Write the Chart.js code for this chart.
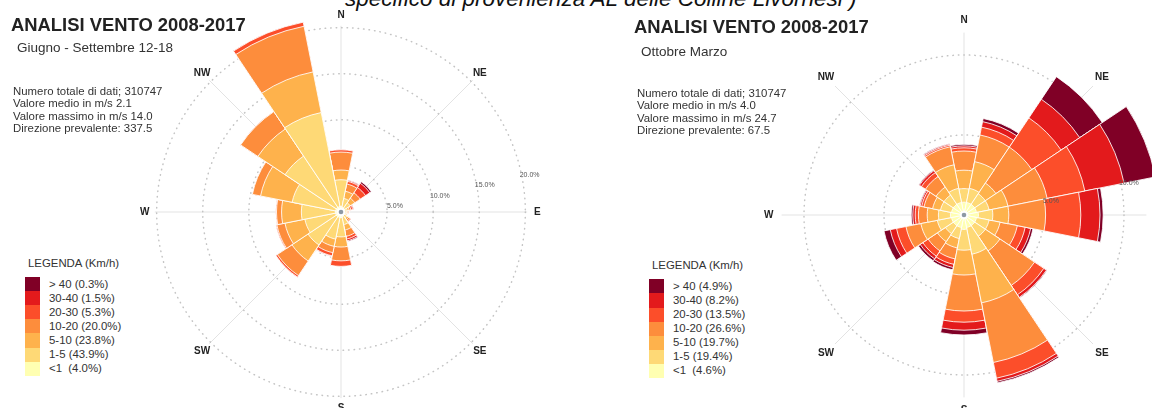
<!DOCTYPE html>
<html lang="it">
<head>
<meta charset="utf-8">
<title>Analisi vento 2008-2017</title>
<script src="https://cdn.jsdelivr.net/npm/chart.js@4.4.1/dist/chart.umd.min.js"></script>
<style>
  html, body { margin: 0; padding: 0; }
  body {
    width: 1152px; height: 408px; overflow: hidden; position: relative; background: #fff;
    font-family: "Liberation Sans", Arial, sans-serif; color: #333;
  }
  canvas { position: absolute; }
  .t { position: absolute; white-space: pre; }
  .caption { left: 345px; top: -13px; font-size: 22.5px; line-height: 24px; font-style: italic; color: #111; }
  .title { font-size: 18.4px; line-height: 20px; font-weight: bold; color: #222; }
  .sub { font-size: 13.5px; line-height: 16px; color: #333; }
  .stats { font-size: 11.4px; line-height: 12.45px; color: #333; }
  .legtitle { font-size: 11.4px; line-height: 14px; color: #333; }
  .sw { position: absolute; }
  .leglab { font-size: 11.4px; line-height: 14px; color: #333; }
</style>
</head>
<body>
<div class="t caption">specifico di provenienza AL delle Colline Livornesi )</div>

<canvas id="roseSummer" width="424" height="424" style="left:129px; top:0px;"></canvas>
<canvas id="roseWinter" width="416" height="416" style="left:756px; top:7px;"></canvas>

<div class="t title" style="left:11px; top:15px;">ANALISI VENTO 2008-2017</div>
<div class="t sub" style="left:17px; top:40px;">Giugno - Settembre 12-18</div>
<div class="t stats" style="left:13px; top:85px;">Numero totale di dati; 310747
Valore medio in m/s 2.1
Valore massimo in m/s 14.0
Direzione prevalente: 337.5</div>

<div class="t title" style="left:634px; top:17px;">ANALISI VENTO 2008-2017</div>
<div class="t sub" style="left:641px; top:44px;">Ottobre Marzo</div>
<div class="t stats" style="left:637px; top:87px;">Numero totale di dati; 310747
Valore medio in m/s 4.0
Valore massimo in m/s 24.7
Direzione prevalente: 67.5</div>

<div id="legSummer"></div>
<div id="legWinter"></div>

<script>
// settori di provenienza (16 direzioni, da N in senso orario)
const directions = ['N', 'NNE', 'NE', 'ENE', 'E', 'ESE', 'SE', 'SSE', 'S', 'SSW', 'SW', 'WSW', 'W', 'WNW', 'NW', 'NNW'];
// classi di velocità in km/h
const speedClasses = ['<1', '1-5', '5-10', '10-20', '20-30', '30-40', '> 40'];
const compassPoints = ['N', 'NE', 'E', 'SE', 'S', 'SW', 'W', 'NW'];

// Giugno - Settembre, frequenze (%) per classe e direzione
const summerLt1   = [0.6, 0.5, 0.5, 0.4, 0.4, 0.4, 0.4, 0.5, 0.6, 0.6, 0.6, 0.6, 0.6, 0.6, 0.6, 0.6];
const summer1to5  = [2.9, 1.0, 0.7, 0.3, 0.2, 0.15, 0.4, 0.9, 2.1, 2.4, 3.7, 3.4, 3.7, 4.8, 6.7, 10.4];
const summer5to10 = [1.05, 0.8, 0.6, 0.2, 0.1, 0.1, 0.2, 0.6, 1.1, 0.8, 2.1, 2.2, 2.15, 3.5, 3.55, 4.5];
const summer10to20 = [1.95, 0.8, 0.7, 0.2, 0.1, 0.05, 0.2, 0.7, 1.5, 0.7, 1.9, 0.9, 0.55, 0.9, 2.25, 5.05];
const summer20to30 = [0.25, 0.3, 0.7, 0.2, 0.05, 0, 0.1, 0.3, 0.6, 0.35, 0.2, 0.1, 0.07, 0, 0, 0.45];
const summer30to40 = [0, 0.1, 0.55, 0.1, 0, 0, 0, 0.2, 0, 0.05, 0, 0, 0, 0, 0, 0];
const summerGt40  = [0, 0.05, 0.2, 0, 0, 0, 0, 0.1, 0, 0, 0, 0, 0, 0, 0, 0];
const summerShares = [4.0, 43.9, 23.8, 20.0, 5.3, 1.5, 0.3];
const summerRings = [5, 10, 15, 20];

// Ottobre - Marzo
const winterLt1   = [0.8, 0.8, 0.8, 0.8, 0.9, 0.8, 0.8, 0.8, 0.9, 0.8, 0.8, 0.8, 0.85, 0.8, 0.8, 0.8];
const winter1to5  = [0.85, 0.9, 0.8, 0.8, 0.9, 0.8, 0.8, 1.7, 1.3, 0.7, 0.6, 0.9, 0.75, 0.7, 0.7, 0.9];
const winter5to10 = [1.15, 1.7, 0.8, 1.2, 1.0, 0.7, 1.1, 3.1, 1.55, 0.6, 0.6, 1.05, 0.7, 0.5, 0.6, 1.5];
const winter10to20 = [1.2, 1.7, 2.7, 2.5, 2.3, 1.1, 2.6, 3.8, 2.25, 0.7, 0.7, 0.95, 0.55, 0.55, 0.8, 1.15];
const winter20to30 = [0.2, 0.5, 2.2, 2.4, 2.2, 0.5, 0.7, 1.0, 0.7, 0.35, 0.4, 0.6, 0.2, 0.15, 0.3, 0.1];
const winter30to40 = [0.12, 0.35, 1.4, 2.5, 1.2, 0.35, 0.2, 0.2, 0.5, 0.2, 0.2, 0.4, 0.15, 0.1, 0.15, 0.07];
const winterGt40  = [0.1, 0.2, 1.7, 2.0, 0.2, 0.15, 0.05, 0.1, 0.3, 0.15, 0.15, 0.4, 0.1, 0.05, 0.05, 0.04];
const winterShares = [4.6, 19.4, 19.7, 26.6, 13.5, 8.2, 4.9];
const winterRings = [5, 10];

// palette YlOrRd, dalla classe più debole alla più forte
const classColors = ['#ffffb2', '#fed976', '#feb24c', '#fd8d3c', '#fc4e2a', '#e31a1c', '#800026'];

// griglia tratteggiata, raggi, etichette cardinali e percentuali
const roseFrame = {
  id: 'roseFrame',
  beforeDatasetsDraw(chart, args, o) {
    const s = chart.scales.r, ctx = chart.ctx;
    const cx = s.xCenter, cy = s.yCenter;
    ctx.save();
    ctx.strokeStyle = '#e3e3e3';
    ctx.lineWidth = 1;
    const len = s.getDistanceFromCenterForValue(o.spoke);
    for (let k = 0; k < 8; k++) {
      const a = k * Math.PI / 4;
      ctx.beginPath();
      ctx.moveTo(cx, cy);
      ctx.lineTo(cx + len * Math.sin(a), cy - len * Math.cos(a));
      ctx.stroke();
    }
    ctx.strokeStyle = '#c4c4c4';
    ctx.lineWidth = 1.5;
    ctx.lineCap = 'round';
    ctx.setLineDash([0.5, 5]);
    o.rings.forEach(v => {
      ctx.beginPath();
      ctx.arc(cx, cy, s.getDistanceFromCenterForValue(v), 0, Math.PI * 2);
      ctx.stroke();
    });
    ctx.restore();
  },
  afterDatasetsDraw(chart, args, o) {
    const s = chart.scales.r, ctx = chart.ctx;
    const cx = s.xCenter, cy = s.yCenter;
    ctx.save();
    // punto centrale
    ctx.fillStyle = '#ffffff';
    ctx.beginPath(); ctx.arc(cx, cy, 4, 0, Math.PI * 2); ctx.fill();
    ctx.fillStyle = '#8e99a4';
    ctx.beginPath(); ctx.arc(cx, cy, 2.3, 0, Math.PI * 2); ctx.fill();

    // percentuali sui cerchi, lungo una direzione poco sopra E
    ctx.font = '7px "Liberation Sans", Arial, sans-serif';
    ctx.fillStyle = '#555';
    ctx.textAlign = 'center';
    ctx.textBaseline = 'middle';
    const ta = 77 * Math.PI / 180;
    o.rings.forEach(v => {
      const r = s.getDistanceFromCenterForValue(v);
      ctx.fillText(v.toFixed(1) + '%', cx + r * Math.sin(ta) + 9, cy - r * Math.cos(ta) + 4.5);
    });

    // punti cardinali
    ctx.font = 'bold 10px "Liberation Sans", Arial, sans-serif';
    ctx.fillStyle = '#222';
    const lr = s.getDistanceFromCenterForValue(o.labelAt);
    compassPoints.forEach((p, k) => {
      const a = k * Math.PI / 4;
      ctx.fillText(p, cx + lr * Math.sin(a), cy - lr * Math.cos(a));
    });
    ctx.restore();
  }
};

function makeRose(canvasId, classSeries, frame) {
  // la rosa è disegnata a strati: ogni dataset è il cumulato fino a quella classe
  let running = directions.map(() => 0);
  const datasets = classSeries.map((vals, k) => {
    running = running.map((r, i) => Math.round((r + vals[i]) * 100) / 100);
    return {
      label: speedClasses[k],
      data: running.slice(),
      backgroundColor: classColors[k],
      borderColor: 'rgba(255,255,255,0.85)',
      borderWidth: 1
    };
  });
  return new Chart(document.getElementById(canvasId), {
    type: 'polarArea',
    data: { labels: directions, datasets },
    options: {
      responsive: false,
      animation: false,
      events: [],
      layout: { padding: 0 },
      startAngle: -11.25,
      scales: {
        r: {
          min: 0,
          max: frame.max,
          startAngle: -11.25,
          ticks: { display: false },
          grid: { display: false },
          angleLines: { display: false },
          pointLabels: { display: false }
        }
      },
      plugins: {
        legend: { display: false },
        tooltip: { enabled: false },
        roseFrame: frame
      }
    },
    plugins: [roseFrame]
  });
}

function buildLegend(id, shares, x, y, labelX) {
  const box = document.getElementById(id);
  const rowH = 14.1;
  let html = '<div class="t legtitle" style="left:' + (x + 3) + 'px; top:' + (y - 21) + 'px;">LEGENDA (Km/h)</div>';
  for (let row = 0; row < speedClasses.length; row++) {
    const k = speedClasses.length - 1 - row;
    const top = y + row * rowH;
    html += '<div class="sw" style="left:' + x + 'px; top:' + top + 'px; width:15px; height:' + (rowH + 0.3) + 'px; background:' + classColors[k] + ';"></div>';
    const name = speedClasses[k] === '<1' ? '<1 ' : speedClasses[k];
    html += '<div class="t leglab" style="left:' + labelX + 'px; top:' + (top + rowH / 2 - 7.5) + 'px;">' +
      name.replace('<', '&lt;') + ' (' + shares[k].toFixed(1) + '%)</div>';
  }
  box.innerHTML = html;
}

makeRose('roseSummer',
  [summerLt1, summer1to5, summer5to10, summer10to20, summer20to30, summer30to40, summerGt40],
  { max: 23, rings: summerRings, spoke: 20.2, labelAt: 21.3 });
makeRose('roseWinter',
  [winterLt1, winter1to5, winter5to10, winter10to20, winter20to30, winter30to40, winterGt40],
  { max: 13, rings: winterRings, spoke: 11.4, labelAt: 12.2 });

buildLegend('legSummer', summerShares, 25, 277, 49);
buildLegend('legWinter', winterShares, 649, 279.3, 673);
</script>
</body>
</html>
